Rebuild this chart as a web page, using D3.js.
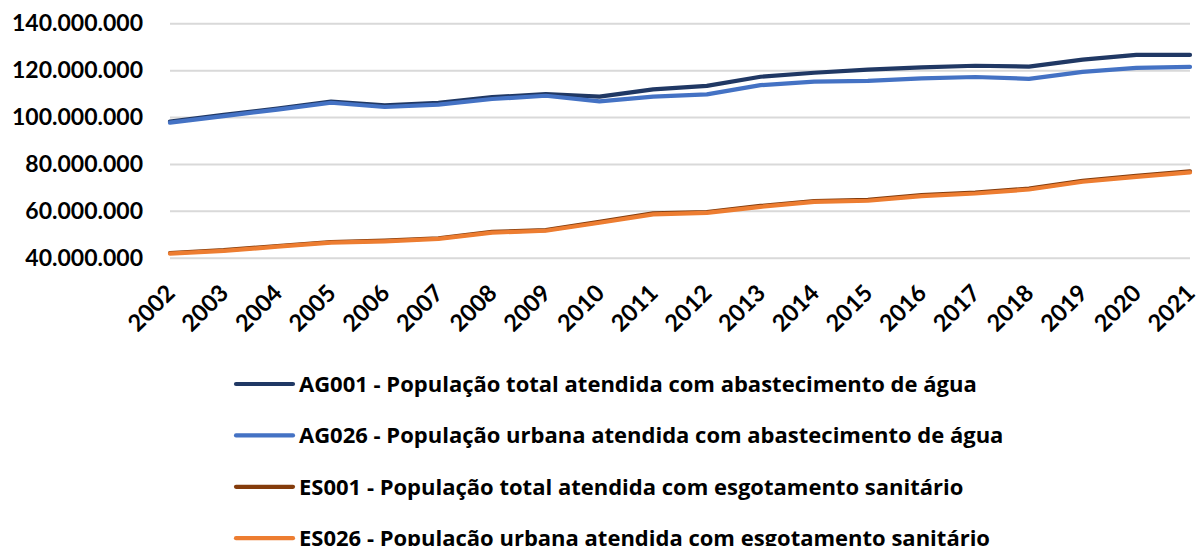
<!DOCTYPE html>
<html>
<head>
<meta charset="utf-8">
<script src="https://cdn.jsdelivr.net/npm/d3@7"></script>
<style>
  body { margin: 0; background: #fff; }
  svg { display: block; font-family: Lato, "Open Sans", sans-serif; font-weight: 700; }
  .tick text { fill: #000; }
</style>
</head>
<body>
<div id="chart"></div>
<script>
// values in millions of people
const years = ['2002', '2003', '2004', '2005', '2006', '2007', '2008', '2009', '2010', '2011',
               '2012', '2013', '2014', '2015', '2016', '2017', '2018', '2019', '2020', '2021'];
const ag001 = [98.1, 100.9, 103.6, 106.6, 105.0, 106.1, 108.5, 109.8, 108.7, 111.8,
               113.3, 117.2, 118.9, 120.2, 121.2, 121.9, 121.5, 124.5, 126.5, 126.5];
const ag026 = [97.6, 100.4, 103.2, 106.1, 104.3, 105.3, 107.7, 109.1, 106.7, 108.7,
               109.7, 113.6, 115.1, 115.4, 116.5, 117.1, 116.3, 119.3, 121.0, 121.4];
const es001 = [42.0, 43.2, 45.0, 46.7, 47.3, 48.3, 51.0, 51.8, 55.3, 58.9,
               59.5, 62.1, 64.2, 64.7, 66.7, 67.8, 69.5, 72.8, 74.9, 76.8];
const es026 = [41.7, 42.9, 44.7, 46.4, 47.0, 48.0, 50.7, 51.5, 54.9, 58.5,
               59.1, 61.7, 63.8, 64.3, 66.3, 67.4, 69.1, 72.4, 74.5, 76.4];
const yTicks = [40, 60, 80, 100, 120, 140];
const seriesNames = [
  'AG001 - População total atendida com abastecimento de água',
  'AG026 - População urbana atendida com abastecimento de água',
  'ES001 - População total atendida com esgotamento sanitário',
  'ES026 - População urbana atendida com esgotamento sanitário'
];
const seriesColors = ['#203864', '#4472C4', '#843C0C', '#ED7D31'];
const seriesValues = [ag001, ag026, es001, es026];

const width = 1200, height = 546;
const plot = { left: 170, right: 1190, top: 23.3, bottom: 257.7 };

const ptBR = d3.formatLocale({ decimal: ',', thousands: '.', grouping: [3], currency: ['R$', ''] });
const fmt = ptBR.format(',d');

const svg = d3.select('#chart')
    .append('svg')
    .attr('width', width)
    .attr('height', height);

svg.append('rect').attr('width', width).attr('height', height).attr('fill', '#fff');

const x = d3.scalePoint()
    .domain(years)
    .range([plot.left, plot.right]);

const y = d3.scaleLinear()
    .domain([40e6, 140e6])
    .range([plot.bottom, plot.top]);

// Y axis with gridlines
const yAxis = svg.append('g')
    .attr('transform', `translate(${plot.left},0)`)
    .call(d3.axisLeft(y)
        .tickValues(yTicks.map(d => d * 1e6))
        .tickFormat(fmt)
        .tickSizeInner(-(plot.right - plot.left))
        .tickSizeOuter(0)
        .tickPadding(27));
yAxis.select('.domain').remove();
yAxis.selectAll('.tick line')
    .attr('stroke', '#d9d9d9')
    .attr('stroke-width', 2);
yAxis.selectAll('.tick text')
    .attr('font-size', 23)
    .attr('font-family', 'Lato, sans-serif')
    .attr('font-weight', 700);

// X axis, rotated labels
const xAxis = svg.append('g')
    .attr('transform', `translate(0,${plot.bottom})`)
    .call(d3.axisBottom(x).tickSize(0));
xAxis.select('.domain').remove();
xAxis.selectAll('.tick text')
    .attr('font-size', 23.5)
    .attr('font-family', 'Lato, sans-serif')
    .attr('font-weight', 700)
    .attr('y', 0)
    .attr('x', 0)
    .attr('dy', '0.35em')
    .attr('text-anchor', 'end')
    .attr('transform', 'translate(0,31) rotate(-45)');

// lines
const line = d3.line()
    .x((d, i) => x(years[i]))
    .y(d => y(d * 1e6));

seriesValues.forEach((vals, k) => {
    svg.append('path')
        .datum(vals)
        .attr('fill', 'none')
        .attr('stroke', seriesColors[k])
        .attr('stroke-width', 4.2)
        .attr('stroke-linejoin', 'round')
        .attr('stroke-linecap', 'round')
        .attr('d', line);
});

// legend
const legend = svg.append('g');
seriesNames.forEach((name, k) => {
    const ly = 384 + k * 51.4;
    legend.append('line')
        .attr('x1', 236).attr('x2', 293)
        .attr('y1', ly).attr('y2', ly)
        .attr('stroke', seriesColors[k])
        .attr('stroke-width', 4.2)
        .attr('stroke-linecap', 'round');
    legend.append('text')
        .attr('x', 299)
        .attr('y', ly)
        .attr('dy', '0.35em')
        .attr('font-size', 22)
        .attr('font-family', '"Open Sans", sans-serif')
        .attr('fill', '#000')
        .text(name);
});
</script>
</body>
</html>
